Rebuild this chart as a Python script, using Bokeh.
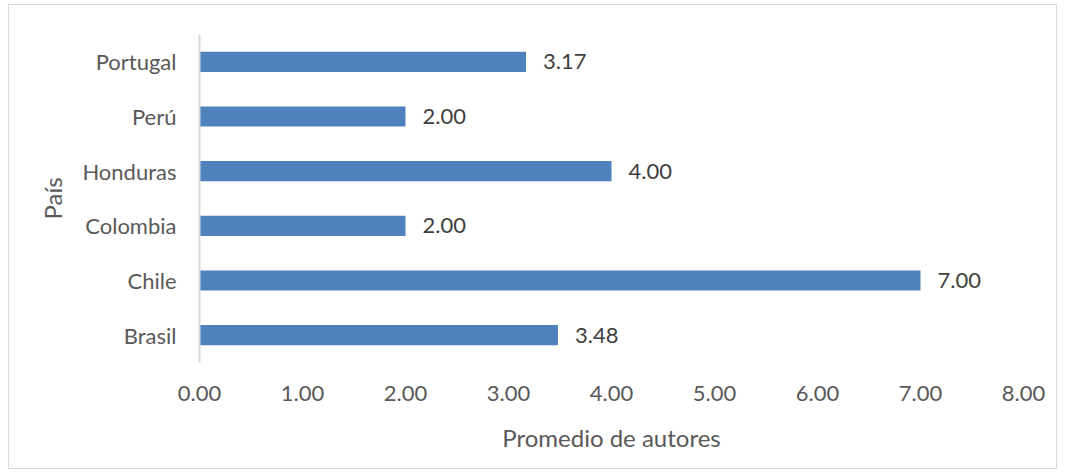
from bokeh.plotting import figure
from bokeh.models import FactorRange, Range1d, FixedTicker, PrintfTickFormatter, ColumnDataSource
from bokeh.core.properties import value
from bokeh.embed import file_html
from bokeh.resources import INLINE

paises = ["Brasil", "Chile", "Colombia", "Honduras", "Perú", "Portugal"]
promedio = [3.48, 7.00, 2.00, 4.00, 2.00, 3.17]
etiquetas = ["%.2f" % v for v in promedio]
x_ticks = [0, 1, 2, 3, 4, 5, 6, 7, 8]

FONT = "Lato"
src = ColumnDataSource(dict(pais=paises, val=promedio, lab=etiquetas))

p = figure(width=1049, height=465, y_range=FactorRange(*paises), x_range=Range1d(0, 8),
           output_backend="svg", toolbar_location=None,
           min_border_left=190, min_border_right=35, min_border_top=29, min_border_bottom=108)
p.styles = {"margin-left": "8px", "margin-top": "4px", "border": "1px solid #d9d9d9"}
p.hbar(y="pais", right="val", left=0, height=0.37, source=src, color="#4f81bd", line_color=None)
p.text(x="val", y="pais", text="lab", source=src, x_offset=17, text_baseline="middle",
       text_font=value(FONT), text_font_size="22px", text_color="#404040")

p.outline_line_color = None
p.xgrid.visible = False
p.ygrid.visible = False

xa = p.xaxis[0]
xa.ticker = FixedTicker(ticks=x_ticks)
xa.formatter = PrintfTickFormatter(format="%.2f")
xa.axis_line_color = None
xa.major_tick_line_color = None
xa.minor_tick_line_color = None
xa.major_label_standoff = 17
xa.major_label_text_font = FONT
xa.major_label_text_font_size = "22px"
xa.major_label_text_color = "#595959"
xa.axis_label = "Promedio de autores"
xa.axis_label_standoff = 19
xa.axis_label_text_font = FONT
xa.axis_label_text_font_size = "24px"
xa.axis_label_text_font_style = "normal"
xa.axis_label_text_color = "#595959"

ya = p.yaxis[0]
ya.axis_line_color = "#d9d9d9"
ya.axis_line_width = 2
ya.major_tick_line_color = None
ya.minor_tick_line_color = None
ya.major_label_standoff = 17
ya.major_label_text_font = FONT
ya.major_label_text_font_size = "22px"
ya.major_label_text_color = "#595959"
ya.axis_label = "País"
ya.axis_label_standoff = 12
ya.axis_label_text_font = FONT
ya.axis_label_text_font_size = "24px"
ya.axis_label_text_font_style = "normal"
ya.axis_label_text_color = "#595959"

open("out.html", "w").write(file_html(p, INLINE))
